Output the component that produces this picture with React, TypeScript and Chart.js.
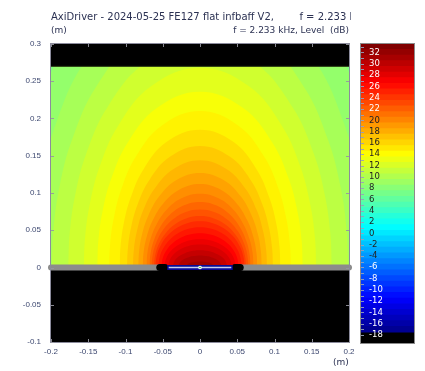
import React, { useEffect, useRef } from 'react';
import { Chart, registerables } from 'chart.js';

Chart.register(...registerables);

// ---- data ----
const titleText = 'AxiDriver - 2024-05-25 FE127 flat infbaff V2,        f = 2.233 kHz, Level  (dB)';
const subtitleLeft = '(m)';
const subtitleRight = 'f = 2.233 kHz, Level  (dB)';
const xUnit = '(m)';

const xTicks = [-0.2, -0.15, -0.1, -0.05, 0, 0.05, 0.1, 0.15, 0.2];
const yTicks = [-0.1, -0.05, 0, 0.05, 0.1, 0.15, 0.2, 0.25, 0.3];
const colorbarTicks = [-18, -16, -14, -12, -10, -8, -6, -4, -2, 0, 2, 4, 6, 8, 10, 12, 14, 16, 18, 20, 22, 24, 26, 28, 30, 32];
const colorbarBands = [-17, -16, -15, -14, -13, -12, -11, -10, -9, -8, -7, -6, -5, -4, -3, -2, -1, 0, 1, 2, 3, 4, 5, 6, 7, 8, 9, 10, 11, 12, 13, 14, 15, 16, 17, 18, 19, 20, 21, 22, 23, 24, 25, 26, 27, 28, 29, 30, 31, 32, 33];
const colorbarRange = [-19.4, 33.5];
const colormapRange = [-18, 33];

// contour levels (dB) and the radius (m) of each contour at elevation angles above the baffle
const contourLevels = [31, 30, 29, 28, 27, 26, 25, 24, 23, 22, 21, 20, 19, 18, 17, 16, 15, 14, 13, 12, 11, 10, 9, 8];
const backgroundLevel = 7.5;
const elevationAngles = [0, 15, 30, 45, 60, 75, 90];
const radiusElev0 = [0.020, 0.030, 0.037, 0.043, 0.048, 0.052, 0.056, 0.060, 0.062, 0.065, 0.068, 0.072, 0.077, 0.083, 0.090, 0.098, 0.108, 0.122, 0.138, 0.156, 0.177, 0.199, 0.224, 0.251];
const radiusElev15 = [0.0172, 0.0277, 0.0352, 0.0417, 0.0471, 0.0515, 0.0559, 0.0601, 0.0624, 0.0657, 0.0689, 0.0732, 0.0784, 0.0846, 0.0919, 0.1002, 0.1104, 0.1248, 0.1412, 0.1596, 0.1810, 0.2035, 0.2291, 0.2568];
const radiusElev30 = [0.0132, 0.0235, 0.0313, 0.0388, 0.0448, 0.0503, 0.0555, 0.0605, 0.0636, 0.0676, 0.0717, 0.0767, 0.0826, 0.0897, 0.0977, 0.1069, 0.1182, 0.1335, 0.1510, 0.1707, 0.1936, 0.2177, 0.2451, 0.2747];
const radiusElev45 = [0.0105, 0.0200, 0.0276, 0.0356, 0.0421, 0.0487, 0.0550, 0.0610, 0.0652, 0.0706, 0.0761, 0.0823, 0.0897, 0.0982, 0.1080, 0.1188, 0.1319, 0.1492, 0.1685, 0.1907, 0.2160, 0.2428, 0.2734, 0.3066];
const radiusElev60 = [0.0090, 0.0177, 0.0250, 0.0330, 0.0399, 0.0473, 0.0545, 0.0615, 0.0670, 0.0740, 0.0814, 0.0896, 0.0990, 0.1099, 0.1221, 0.1358, 0.1520, 0.1720, 0.1939, 0.2197, 0.2485, 0.2795, 0.3148, 0.3529];
const radiusElev75 = [0.0082, 0.0164, 0.0235, 0.0315, 0.0385, 0.0463, 0.0541, 0.0619, 0.0685, 0.0769, 0.0861, 0.0962, 0.1080, 0.1217, 0.1370, 0.1541, 0.1743, 0.1974, 0.2221, 0.2521, 0.2843, 0.3201, 0.3604, 0.4046];
const radiusElev90 = [0.008, 0.016, 0.023, 0.031, 0.038, 0.046, 0.054, 0.062, 0.069, 0.078, 0.088, 0.099, 0.112, 0.127, 0.144, 0.163, 0.185, 0.210, 0.236, 0.268, 0.302, 0.340, 0.383, 0.430];

// geometry of the field and the driver (m)
const fieldTop = 0.27;
const baffleLeft = [-0.2, -0.056];
const baffleRight = [0.056, 0.2];
const surroundLeft = [-0.054, -0.047];
const surroundRight = [0.047, 0.054];
const cone = [-0.044, 0.044];
const coneInner = [-0.042, 0.042];

// ---- helpers ----
function jet(level: number): string {
  const f = Math.min(1, Math.max(0, (level - colormapRange[0]) / (colormapRange[1] - colormapRange[0])));
  const c = (v: number) => Math.round(255 * Math.min(1, Math.max(0, 1.5 - Math.abs(4 * f - v))));
  return `rgb(${c(3)},${c(2)},${c(1)})`;
}

const radiusColumns = [radiusElev0, radiusElev15, radiusElev30, radiusElev45, radiusElev60, radiusElev75, radiusElev90];

function contourPoints(i: number) {
  const pts: { x: number; y: number }[] = [];
  for (let k = 0; k < elevationAngles.length; k++) {
    const a = (elevationAngles[k] * Math.PI) / 180;
    const r = radiusColumns[k][i];
    pts.push({ x: -r * Math.cos(a), y: r * Math.sin(a) });
  }
  for (let k = elevationAngles.length - 2; k >= 0; k--) {
    const a = (elevationAngles[k] * Math.PI) / 180;
    const r = radiusColumns[k][i];
    pts.push({ x: r * Math.cos(a), y: r * Math.sin(a) });
  }
  return pts;
}

const seg = (a: number[], y = 0) => [{ x: a[0], y }, { x: a[1], y }];

function lineDs(data: any[], opts: any) {
  return { data, showLine: true, pointRadius: 0, borderWidth: 0, tension: 0, fill: false, ...opts };
}

const axisColor = '#3d4870';

export default function App() {
  const mainRef = useRef<HTMLCanvasElement>(null);
  const barRef = useRef<HTMLCanvasElement>(null);

  useEffect(() => {
    document.body.style.margin = '0';
    const datasets: any[] = [];
    datasets.push({
      data: [{ x: 0, y: 0 }], showLine: false, pointRadius: 1.6, pointStyle: 'rect',
      backgroundColor: '#18b018', borderColor: '#ffffff', borderWidth: 1, clip: false,
    });
    datasets.push(lineDs(seg(coneInner), { borderColor: '#c4cdef', borderWidth: 1.6, borderCapStyle: 'butt' }));
    datasets.push(lineDs(seg(cone), { borderColor: '#0a0a96', borderWidth: 5, borderCapStyle: 'butt' }));
    datasets.push(lineDs(seg(surroundLeft), { borderColor: '#000000', borderWidth: 7, borderCapStyle: 'round' }));
    datasets.push(lineDs(seg(surroundRight), { borderColor: '#000000', borderWidth: 7, borderCapStyle: 'round' }));
    datasets.push(lineDs(seg(baffleLeft), { borderColor: '#8c8c8c', borderWidth: 6, borderCapStyle: 'round', clip: false }));
    datasets.push(lineDs(seg(baffleRight), { borderColor: '#8c8c8c', borderWidth: 6, borderCapStyle: 'round', clip: false }));
    datasets.push(lineDs(seg([-0.2, 0.2], fieldTop), { borderColor: '#25330f', borderWidth: 1 }));
    datasets.push(lineDs(seg([-0.21, 0.21], 0.3), { backgroundColor: '#000000', fill: { value: fieldTop } }));
    datasets.push(lineDs(seg([-0.21, 0.21], -0.1), { backgroundColor: '#000000', fill: { value: 0 } }));
    contourLevels.forEach((lv, i) => {
      datasets.push(lineDs(contourPoints(i), {
        backgroundColor: jet(lv + 0.5), fill: { value: 0 }, tension: 0.4,
      }));
    });
    datasets.push(lineDs(seg([-0.21, 0.21], fieldTop), { backgroundColor: jet(backgroundLevel), fill: { value: 0 } }));

    const framePlugin = {
      id: 'frame',
      afterDatasetsDraw(chart: any) {
        const { ctx, chartArea: a } = chart;
        const xs = chart.scales.x, ys = chart.scales.y;
        ctx.save();
        ctx.strokeStyle = '#8b8b9c';
        ctx.lineWidth = 1;
        ctx.strokeRect(a.left - 0.5, a.top - 0.5, a.right - a.left + 1, a.bottom - a.top + 1);
        ctx.strokeStyle = 'rgba(150,150,160,0.9)';
        ctx.beginPath();
        xTicks.forEach((v) => {
          const p = Math.round(xs.getPixelForValue(v)) + 0.5;
          ctx.moveTo(p, a.top); ctx.lineTo(p, a.top + 3);
          ctx.moveTo(p, a.bottom); ctx.lineTo(p, a.bottom - 3);
        });
        yTicks.forEach((v) => {
          const p = Math.round(ys.getPixelForValue(v)) + 0.5;
          ctx.moveTo(a.left, p); ctx.lineTo(a.left + 3, p);
          ctx.moveTo(a.right, p); ctx.lineTo(a.right - 3, p);
        });
        ctx.stroke();
        ctx.restore();
      },
    };

    const main = new Chart(mainRef.current!, {
      type: 'scatter',
      data: { datasets },
      options: {
        animation: false,
        responsive: false,
        maintainAspectRatio: false,
        layout: { padding: { left: 0, right: 76, top: 44, bottom: 0 } },
        elements: { line: { capBezierPoints: false } },
        plugins: { legend: { display: false }, tooltip: { enabled: false } },
        scales: {
          x: {
            type: 'linear', min: -0.2, max: 0.2,
            grid: { display: false, drawTicks: false }, border: { display: false },
            afterBuildTicks: (s: any) => { s.ticks = xTicks.map((v) => ({ value: v })); },
            afterFit: (s: any) => { s.height = 29; },
            ticks: {
              padding: 5, color: axisColor, autoSkip: false, maxRotation: 0,
              font: { family: 'Liberation Sans', size: 8 },
              callback: (v: any) => String(v),
            },
          },
          y: {
            type: 'linear', min: -0.1, max: 0.3,
            grid: { display: false, drawTicks: false }, border: { display: false },
            afterBuildTicks: (s: any) => { s.ticks = yTicks.map((v) => ({ value: v })); },
            afterFit: (s: any) => { s.width = 51; },
            ticks: {
              padding: 10, color: axisColor, autoSkip: false,
              font: { family: 'Liberation Sans', size: 8 },
              callback: (v: any) => String(v),
            },
          },
        },
      } as any,
      plugins: [framePlugin],
    });

    const barDatasets: any[] = colorbarBands.map((lv) => ({
      data: [[lv - 0.5, lv + 0.55]], backgroundColor: jet(lv), borderWidth: 0,
      grouped: false, barPercentage: 1, categoryPercentage: 1,
    }));
    barDatasets.push({
      data: [[colorbarRange[0], colorbarBands[0] - 0.5]], backgroundColor: '#000000', borderWidth: 0,
      grouped: false, barPercentage: 1, categoryPercentage: 1,
    });

    const barFrame = {
      id: 'barFrame',
      afterDatasetsDraw(chart: any) {
        const { ctx, chartArea: a } = chart;
        const ys = chart.scales.y;
        ctx.save();
        ctx.strokeStyle = 'rgba(150,160,190,0.9)';
        ctx.lineWidth = 1;
        ctx.beginPath();
        for (let v = colorbarTicks[0]; v <= colorbarTicks[colorbarTicks.length - 1] + 1; v++) {
          const p = Math.round(ys.getPixelForValue(v)) + 0.5;
          ctx.moveTo(a.left, p); ctx.lineTo(a.left + 3, p);
        }
        ctx.stroke();
        ctx.font = '8.5px "DejaVu Sans"';
        ctx.textAlign = 'left';
        ctx.textBaseline = 'middle';
        colorbarTicks.forEach((v) => {
          ctx.fillStyle = v >= 22 || v <= -6 ? '#ffffff' : '#222222';
          ctx.fillText(String(v), a.left + 8, ys.getPixelForValue(v));
        });
        ctx.strokeStyle = '#8b8b8b';
        ctx.strokeRect(a.left - 0.5, a.top - 0.5, a.right - a.left + 1, a.bottom - a.top + 1);
        ctx.restore();
      },
    };

    const bar = new Chart(barRef.current!, {
      type: 'bar',
      data: { labels: ['L'], datasets: barDatasets },
      options: {
        animation: false,
        responsive: false,
        maintainAspectRatio: false,
        layout: { padding: { left: 6, right: 11, top: 44, bottom: 28 } },
        plugins: { legend: { display: false }, tooltip: { enabled: false } },
        scales: {
          x: { display: false },
          y: {
            min: colorbarRange[0], max: colorbarRange[1], display: false,
          },
        },
      } as any,
      plugins: [barFrame],
    });

    return () => { main.destroy(); bar.destroy(); };
  }, []);

  const textStyle: React.CSSProperties = {
    position: 'absolute', fontFamily: 'DejaVu Sans', color: '#2b3152', whiteSpace: 'pre',
  };

  return (
    <div style={{ position: 'fixed', left: 0, top: 0, width: 425, height: 371, background: '#ffffff' }}>
      <canvas ref={mainRef} width={425} height={371} style={{ position: 'absolute', left: 0, top: 0 }} />
      <canvas ref={barRef} width={70} height={371} style={{ position: 'absolute', left: 355, top: 0 }} />
      <div style={{ ...textStyle, left: 51, top: 11, width: 300, overflow: 'hidden', fontSize: 10, lineHeight: '12px' }}>{titleText}</div>
      <div style={{ ...textStyle, left: 51, top: 25, fontSize: 9, lineHeight: '11px' }}>{subtitleLeft}</div>
      <div style={{ ...textStyle, right: 425 - 349, top: 25, fontSize: 9, lineHeight: '11px', textAlign: 'right' }}>{subtitleRight}</div>
      <div style={{ ...textStyle, left: 333, top: 357, fontSize: 9, lineHeight: '11px' }}>{xUnit}</div>
    </div>
  );
}
